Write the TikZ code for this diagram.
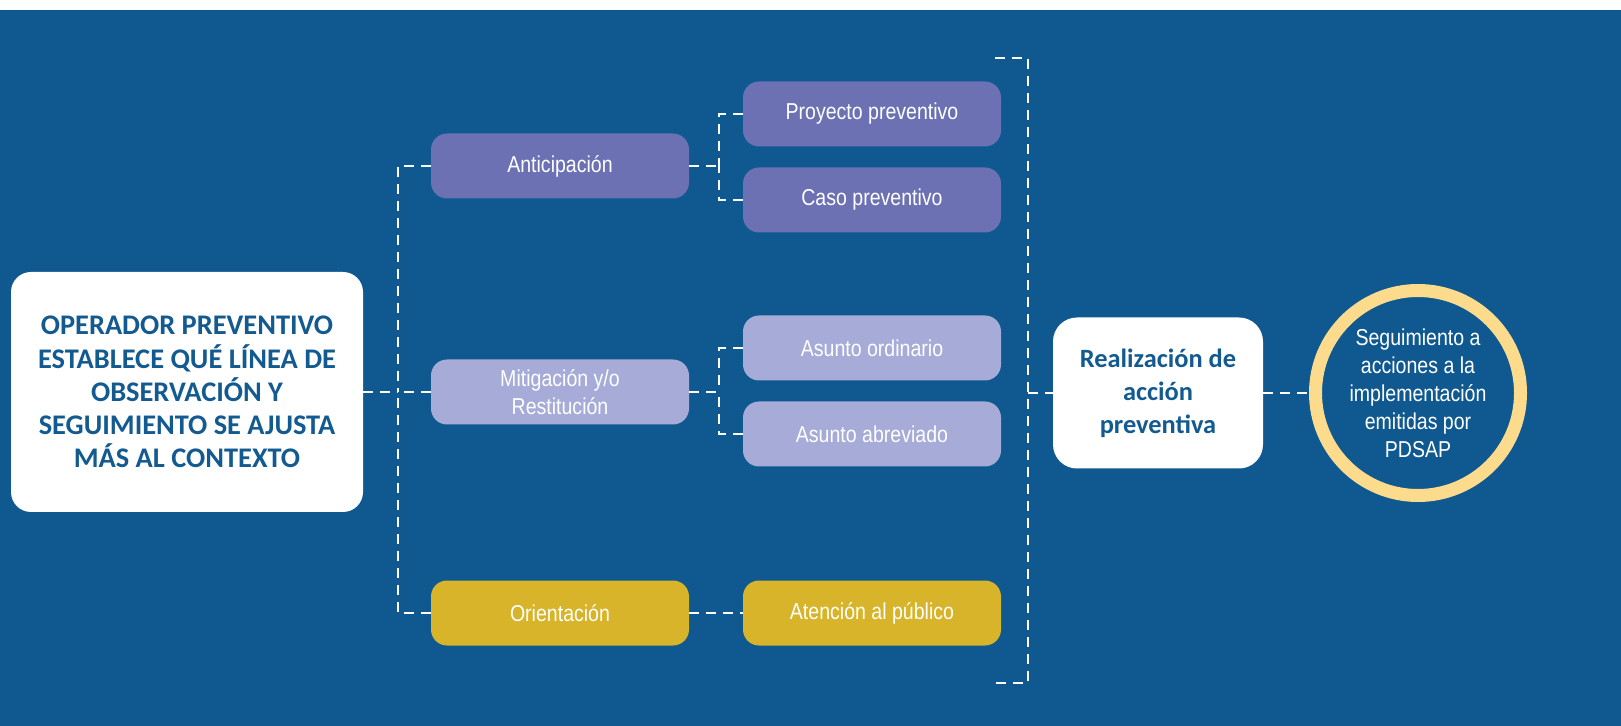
\documentclass[tikz,border=0pt]{standalone}
\usepackage{fontspec}
\setmainfont{Liberation Sans}
\newfontfamily\narrowfont{Liberation Sans}[FakeStretch=0.85]
\newfontfamily\titlefont{Carlito}

\definecolor{fondo}{HTML}{0F5890}
\definecolor{tinta}{HTML}{135A91}
\definecolor{morado}{HTML}{6B71B3}
\definecolor{lila}{HTML}{A6ABD8}
\definecolor{oro}{HTML}{D7B42A}
\definecolor{crema}{HTML}{FDDB8C}

\tikzset{
  caja/.style={rounded corners=8pt, minimum width=129pt, minimum height=32.5pt,
    align=center, text=white, font=\narrowfont\fontsize{11.5}{14}\selectfont},
  blanca/.style={fill=white, align=center, text=tinta,
    font=\titlefont\bfseries\fontsize{13}{16}\selectfont},
  enlace/.style={draw=white, line width=1.3pt, dash pattern=on 5pt off 3.5pt},
}

\begin{document}
\begin{tikzpicture}[x=0.5pt, y=-0.5pt]
    % 背景
    \useasboundingbox (0,0) rectangle (1621,726);
    \fill[white] (0,0) rectangle (1621,10);
    \fill[fondo] (0,10) rectangle (1621,726);

    % ノード
    \node[blanca, rounded corners=10pt, minimum width=176pt, minimum height=120pt,
      font=\titlefont\bfseries\fontsize{14.2}{16.6}\selectfont] (operador) at (187,392)
      {OPERADOR PREVENTIVO\\ESTABLECE QUÉ LÍNEA DE\\OBSERVACIÓN Y\\SEGUIMIENTO SE AJUSTA\\MÁS AL CONTEXTO};
    \node[caja, fill=morado] (anticipacion) at (560,166) {Anticipación};
    \node[caja, fill=lila] (mitigacion) at (560,392) {Mitigación y/o\\Restitución};
    \node[caja, fill=oro] (orientacion) at (560,613) {Orientación};
    \node[caja, fill=morado] (proyecto) at (872,114) {Proyecto preventivo};
    \node[caja, fill=morado] (caso) at (872,200) {Caso preventivo};
    \node[caja, fill=lila] (ordinario) at (872,348) {Asunto ordinario};
    \node[caja, fill=lila] (abreviado) at (872,434) {Asunto abreviado};
    \node[caja, fill=oro] (atencion) at (872,613) {Atención al público};
    \node[blanca, rounded corners=12pt, minimum width=105pt, minimum height=75.5pt,
      font=\titlefont\bfseries\fontsize{13.2}{16.5}\selectfont] (realizacion) at (1158,393)
      {Realización de\\acción\\preventiva};
    \node[circle, draw=crema, line width=6.5pt, minimum size=102.5pt, inner sep=0pt, align=center,
      text=white, font=\narrowfont\fontsize{11.5}{14}\selectfont] (seguimiento) at (1418,393)
      {Seguimiento a\\acciones a la\\implementación\\emitidas por\\PDSAP};

    % 分岐点
    \coordinate (bus) at (398,392);
    \coordinate (nudoA) at (719,166);
    \coordinate (nudoM) at (719,392);
    \coordinate (llaveA) at (995,58);
    \coordinate (llaveB) at (1028,58);
    \coordinate (llaveC) at (1028,683);
    \coordinate (llaveD) at (995,683);
    \coordinate (llaveM) at (1028,393);

    % エッジ
    \draw[enlace] (operador.east) -- (bus);
    \draw[enlace] (anticipacion.west) -| (bus);
    \draw[enlace] (orientacion.west) -| (bus);
    \draw[enlace] (mitigacion.west) -- (bus);
    \draw[enlace] (anticipacion.east) -- (nudoA);
    \draw[enlace] (proyecto.west) -| (nudoA);
    \draw[enlace] (caso.west) -| (nudoA);
    \draw[enlace] (mitigacion.east) -- (nudoM);
    \draw[enlace] (ordinario.west) -| (nudoM);
    \draw[enlace] (abreviado.west) -| (nudoM);
    \draw[enlace] (orientacion.east) -- (atencion.west);
    \draw[enlace] (llaveA) -- (llaveB) -- (llaveC) -- (llaveD);
    \draw[enlace] (llaveM) -- (realizacion.west);
    \draw[enlace] (realizacion.east) -- (seguimiento.west);
\end{tikzpicture}
\end{document}
